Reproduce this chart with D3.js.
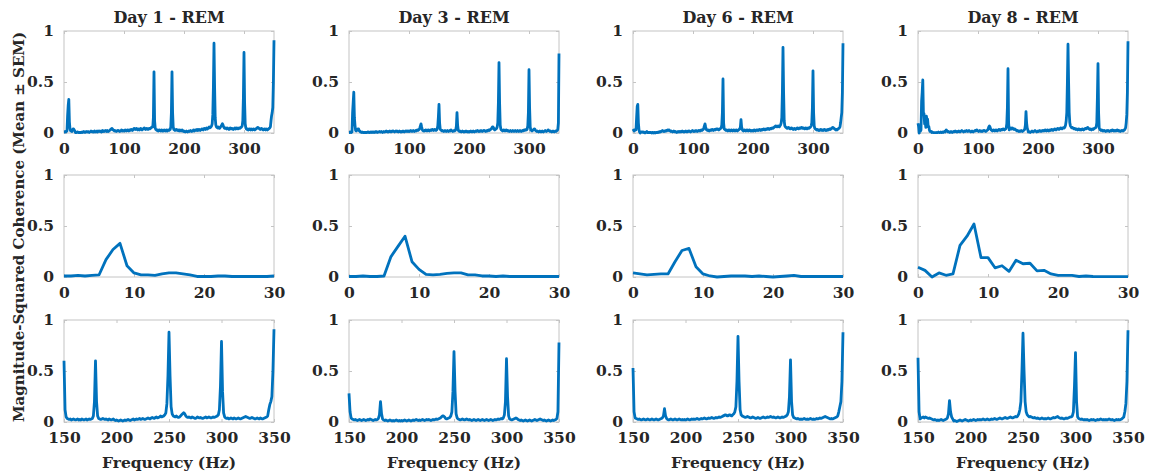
<!DOCTYPE html>
<html>
<head>
<meta charset="utf-8">
<script src="https://cdn.jsdelivr.net/npm/d3@7"></script>
<style>
body { margin: 0; background: #fff; }
text { font-family: "DejaVu Serif", serif; font-weight: bold; fill: #262626; }
</style>
</head>
<body>
<div id="chart"></div>
<script>
// coherence spectra, one value per Hz (0..350 Hz)
var titles = ["Day 1 - REM", "Day 3 - REM", "Day 6 - REM", "Day 8 - REM"];

var day1 = [
	0.01,0.01,0.015,0.01,0.015,0.02,0.17,0.27,0.33,0.11,
	0.04,0.02,0.02,0.015,0.03,0.04,0.04,0.03,0.02,0.005,
	0.005,0.005,0.01,0.01,0.005,0.005,0.005,0.005,0.005,0.005,
	0.01,0.005,0.01,0.015,0.01,0.005,0.01,0.015,0.01,0.01,
	0.015,0.01,0.005,0.01,0.015,0.02,0.015,0.01,0.015,0.01,
	0.01,0.02,0.015,0.01,0.015,0.02,0.01,0.015,0.02,0.015,
	0.02,0.015,0.01,0.02,0.025,0.015,0.02,0.015,0.02,0.025,
	0.02,0.015,0.025,0.02,0.015,0.02,0.025,0.03,0.035,0.04,
	0.045,0.035,0.03,0.025,0.02,0.025,0.02,0.015,0.02,0.025,
	0.02,0.025,0.02,0.015,0.02,0.025,0.03,0.02,0.025,0.02,
	0.025,0.02,0.03,0.025,0.02,0.025,0.03,0.025,0.02,0.03,
	0.025,0.03,0.035,0.03,0.025,0.03,0.04,0.045,0.04,0.035,
	0.04,0.045,0.035,0.03,0.04,0.035,0.03,0.04,0.045,0.035,
	0.03,0.035,0.04,0.045,0.05,0.04,0.035,0.04,0.045,0.04,
	0.035,0.04,0.045,0.04,0.045,0.05,0.055,0.06,0.06,0.15,
	0.6,0.12,0.05,0.035,0.03,0.025,0.03,0.02,0.025,0.03,
	0.025,0.02,0.025,0.03,0.02,0.025,0.02,0.03,0.025,0.02,
	0.025,0.03,0.02,0.025,0.03,0.025,0.03,0.035,0.06,0.2,
	0.6,0.2,0.06,0.035,0.03,0.025,0.03,0.035,0.03,0.025,
	0.03,0.025,0.02,0.03,0.025,0.02,0.025,0.03,0.02,0.015,
	0.02,0.015,0.01,0.015,0.02,0.015,0.01,0.015,0.02,0.015,
	0.02,0.025,0.02,0.015,0.02,0.025,0.03,0.02,0.025,0.03,
	0.025,0.03,0.035,0.025,0.03,0.035,0.03,0.025,0.03,0.035,
	0.04,0.035,0.03,0.04,0.045,0.04,0.035,0.045,0.05,0.04,
	0.045,0.05,0.06,0.05,0.055,0.06,0.07,0.09,0.18,0.45,
	0.88,0.45,0.15,0.08,0.06,0.055,0.05,0.06,0.05,0.045,
	0.05,0.06,0.07,0.08,0.09,0.08,0.06,0.05,0.045,0.05,
	0.045,0.04,0.05,0.045,0.04,0.035,0.04,0.05,0.045,0.04,
	0.045,0.04,0.035,0.04,0.045,0.05,0.04,0.045,0.05,0.045,
	0.04,0.045,0.05,0.045,0.05,0.055,0.06,0.07,0.12,0.35,
	0.79,0.3,0.09,0.05,0.04,0.035,0.04,0.03,0.035,0.04,
	0.035,0.03,0.04,0.035,0.03,0.035,0.04,0.035,0.03,0.035,
	0.04,0.045,0.05,0.055,0.05,0.045,0.04,0.035,0.04,0.045,
	0.04,0.035,0.03,0.035,0.04,0.035,0.03,0.04,0.035,0.03,
	0.035,0.04,0.045,0.05,0.06,0.12,0.17,0.2,0.25,0.5,
	0.91
];

var day3 = [
	0.005,0.005,0.01,0.005,0.005,0.01,0.2,0.3,0.4,0.15,
	0.075,0.025,0.02,0.025,0.035,0.04,0.04,0.02,0.02,0.01,
	0.01,0.005,0.01,0.005,0.005,0.005,0.005,0.005,0.005,0.005,
	0.005,0.01,0.005,0.01,0.005,0.005,0.01,0.005,0.01,0.01,
	0.005,0.01,0.01,0.005,0.01,0.015,0.01,0.005,0.01,0.01,
	0.01,0.015,0.01,0.01,0.015,0.01,0.005,0.01,0.015,0.01,
	0.01,0.015,0.02,0.015,0.01,0.015,0.01,0.015,0.02,0.015,
	0.01,0.015,0.02,0.015,0.02,0.015,0.01,0.015,0.02,0.015,
	0.02,0.015,0.01,0.015,0.02,0.015,0.01,0.015,0.01,0.015,
	0.02,0.015,0.01,0.015,0.02,0.015,0.02,0.015,0.02,0.015,
	0.02,0.015,0.02,0.025,0.02,0.015,0.02,0.025,0.02,0.015,
	0.02,0.025,0.02,0.025,0.03,0.025,0.03,0.035,0.05,0.07,
	0.09,0.06,0.035,0.025,0.02,0.025,0.02,0.025,0.03,0.025,
	0.02,0.025,0.03,0.025,0.02,0.025,0.03,0.025,0.03,0.035,
	0.03,0.025,0.03,0.035,0.03,0.025,0.03,0.04,0.07,0.16,
	0.28,0.1,0.04,0.03,0.025,0.02,0.025,0.02,0.015,0.02,
	0.025,0.02,0.015,0.02,0.025,0.02,0.015,0.02,0.025,0.02,
	0.03,0.025,0.02,0.015,0.02,0.025,0.02,0.025,0.035,0.07,
	0.2,0.08,0.03,0.02,0.015,0.02,0.015,0.01,0.015,0.02,
	0.015,0.01,0.015,0.01,0.015,0.02,0.015,0.01,0.015,0.01,
	0.015,0.01,0.015,0.02,0.015,0.01,0.015,0.02,0.015,0.01,
	0.015,0.02,0.015,0.02,0.025,0.02,0.015,0.02,0.015,0.02,
	0.025,0.02,0.015,0.02,0.025,0.02,0.025,0.02,0.015,0.02,
	0.025,0.02,0.025,0.03,0.025,0.03,0.035,0.04,0.05,0.06,
	0.06,0.05,0.035,0.03,0.035,0.04,0.045,0.06,0.1,0.3,
	0.69,0.3,0.08,0.04,0.03,0.025,0.02,0.025,0.03,0.025,
	0.02,0.025,0.03,0.025,0.02,0.025,0.02,0.015,0.02,0.025,
	0.02,0.015,0.02,0.025,0.02,0.015,0.02,0.025,0.02,0.015,
	0.02,0.025,0.02,0.015,0.02,0.025,0.02,0.015,0.02,0.025,
	0.02,0.025,0.03,0.025,0.03,0.035,0.03,0.04,0.07,0.2,
	0.62,0.25,0.06,0.03,0.025,0.02,0.025,0.03,0.035,0.04,
	0.035,0.025,0.02,0.015,0.02,0.015,0.01,0.015,0.02,0.015,
	0.01,0.015,0.02,0.015,0.01,0.015,0.02,0.025,0.02,0.015,
	0.02,0.025,0.03,0.025,0.02,0.015,0.02,0.015,0.01,0.015,
	0.02,0.015,0.01,0.015,0.02,0.015,0.02,0.025,0.035,0.1,
	0.78
];

var day6 = [
	0.04,0.03,0.02,0.025,0.03,0.03,0.15,0.26,0.28,0.1,
	0.03,0.01,0.0,0.005,0.01,0.01,0.01,0.005,0.01,0.005,
	0.0,0.005,0.01,0.015,0.005,0.005,0.005,0.005,0.005,0.005,
	0.005,0.0,0.005,0.005,0.0,0.005,0.005,0.0,0.005,0.005,
	0.005,0.005,0.01,0.005,0.01,0.015,0.01,0.015,0.02,0.025,
	0.02,0.015,0.02,0.015,0.02,0.025,0.02,0.025,0.03,0.025,
	0.03,0.025,0.02,0.015,0.02,0.015,0.01,0.015,0.02,0.015,
	0.01,0.015,0.01,0.005,0.01,0.015,0.01,0.015,0.01,0.015,
	0.01,0.015,0.02,0.015,0.01,0.015,0.01,0.015,0.02,0.015,
	0.01,0.015,0.02,0.015,0.02,0.015,0.01,0.015,0.02,0.025,
	0.02,0.015,0.02,0.015,0.02,0.025,0.02,0.015,0.02,0.025,
	0.02,0.025,0.02,0.025,0.03,0.025,0.03,0.035,0.05,0.07,
	0.09,0.06,0.035,0.03,0.025,0.03,0.025,0.02,0.025,0.03,
	0.025,0.03,0.035,0.03,0.025,0.03,0.035,0.03,0.035,0.04,
	0.035,0.04,0.035,0.03,0.035,0.04,0.045,0.05,0.08,0.2,
	0.53,0.1,0.04,0.035,0.03,0.025,0.03,0.025,0.02,0.025,
	0.03,0.025,0.02,0.025,0.03,0.025,0.02,0.025,0.03,0.025,
	0.02,0.025,0.03,0.025,0.02,0.025,0.03,0.035,0.04,0.06,
	0.13,0.06,0.035,0.025,0.02,0.025,0.03,0.025,0.02,0.025,
	0.03,0.025,0.02,0.025,0.03,0.025,0.02,0.025,0.02,0.025,
	0.02,0.025,0.03,0.025,0.02,0.025,0.03,0.025,0.03,0.025,
	0.03,0.035,0.03,0.025,0.03,0.035,0.03,0.035,0.04,0.035,
	0.03,0.035,0.04,0.035,0.04,0.045,0.04,0.035,0.04,0.045,
	0.04,0.045,0.05,0.045,0.05,0.055,0.06,0.065,0.07,0.065,
	0.06,0.065,0.07,0.065,0.06,0.07,0.08,0.1,0.15,0.4,
	0.84,0.4,0.12,0.07,0.06,0.055,0.05,0.045,0.05,0.055,
	0.05,0.045,0.04,0.045,0.05,0.045,0.04,0.035,0.04,0.045,
	0.04,0.035,0.04,0.045,0.05,0.045,0.04,0.045,0.05,0.045,
	0.05,0.055,0.05,0.045,0.05,0.045,0.04,0.045,0.05,0.045,
	0.04,0.045,0.05,0.045,0.05,0.055,0.06,0.07,0.1,0.25,
	0.61,0.2,0.07,0.045,0.04,0.035,0.03,0.035,0.03,0.025,
	0.03,0.025,0.03,0.035,0.03,0.025,0.03,0.025,0.03,0.035,
	0.03,0.025,0.03,0.025,0.03,0.035,0.03,0.035,0.04,0.035,
	0.04,0.045,0.05,0.055,0.05,0.045,0.04,0.035,0.03,0.035,
	0.03,0.035,0.04,0.045,0.05,0.06,0.1,0.15,0.2,0.4,
	0.88
];

var day8 = [
	0.095,0.065,0.0,0.04,0.017,0.03,0.31,0.4,0.52,0.19,
	0.19,0.09,0.11,0.055,0.165,0.13,0.135,0.06,0.065,0.03,
	0.015,0.015,0.015,0.005,0.01,0.005,0.003,0.003,0.003,0.003,
	0.003,0.005,0.003,0.005,0.01,0.005,0.003,0.005,0.01,0.005,
	0.005,0.01,0.005,0.01,0.015,0.01,0.02,0.03,0.025,0.015,
	0.01,0.015,0.01,0.005,0.01,0.015,0.01,0.005,0.01,0.015,
	0.01,0.015,0.02,0.015,0.01,0.015,0.01,0.015,0.02,0.015,
	0.01,0.015,0.02,0.025,0.02,0.015,0.01,0.015,0.02,0.015,
	0.02,0.025,0.02,0.015,0.02,0.025,0.02,0.015,0.01,0.015,
	0.02,0.015,0.01,0.015,0.02,0.025,0.02,0.025,0.03,0.025,
	0.02,0.015,0.02,0.025,0.02,0.015,0.02,0.015,0.02,0.025,
	0.02,0.025,0.02,0.015,0.02,0.025,0.03,0.04,0.06,0.07,
	0.06,0.04,0.03,0.025,0.02,0.025,0.03,0.025,0.02,0.025,
	0.03,0.025,0.02,0.025,0.03,0.035,0.03,0.025,0.03,0.035,
	0.03,0.035,0.04,0.035,0.03,0.035,0.04,0.05,0.09,0.25,
	0.63,0.1,0.03,0.04,0.045,0.05,0.04,0.05,0.045,0.04,
	0.035,0.04,0.035,0.03,0.025,0.02,0.025,0.02,0.015,0.02,
	0.015,0.02,0.025,0.02,0.015,0.02,0.025,0.03,0.04,0.08,
	0.21,0.1,0.05,0.03,0.01,0.015,0.01,0.005,0.01,0.015,
	0.02,0.015,0.01,0.015,0.02,0.025,0.02,0.015,0.01,0.015,
	0.02,0.015,0.02,0.025,0.02,0.015,0.02,0.025,0.02,0.025,
	0.02,0.025,0.03,0.025,0.02,0.025,0.03,0.025,0.02,0.025,
	0.03,0.025,0.03,0.035,0.03,0.025,0.03,0.035,0.04,0.035,
	0.03,0.035,0.04,0.045,0.04,0.035,0.04,0.045,0.05,0.045,
	0.04,0.045,0.05,0.055,0.05,0.06,0.08,0.12,0.2,0.5,
	0.87,0.5,0.2,0.1,0.07,0.06,0.05,0.055,0.05,0.045,
	0.04,0.045,0.04,0.035,0.04,0.035,0.03,0.035,0.04,0.035,
	0.03,0.035,0.03,0.035,0.04,0.035,0.03,0.035,0.04,0.045,
	0.04,0.045,0.05,0.055,0.045,0.04,0.035,0.04,0.035,0.03,
	0.035,0.04,0.035,0.04,0.045,0.05,0.05,0.06,0.1,0.35,
	0.68,0.2,0.05,0.035,0.03,0.025,0.03,0.025,0.02,0.025,
	0.02,0.025,0.02,0.015,0.02,0.025,0.02,0.025,0.02,0.015,
	0.02,0.025,0.02,0.025,0.03,0.025,0.02,0.025,0.02,0.025,
	0.02,0.025,0.03,0.025,0.02,0.025,0.02,0.015,0.02,0.025,
	0.02,0.025,0.02,0.025,0.03,0.04,0.05,0.1,0.18,0.4,
	0.9
];

var series = [day1, day3, day6, day8];

// row frequency windows and tick labels
var rowRanges = [[0, 350], [0, 30], [150, 350]];
var rowTicks = [[0, 100, 200, 300], [0, 10, 20, 30], [150, 200, 250, 300, 350]];
var yTicks = [0, 0.5, 1];

var colLeft = [64, 349, 633, 918];
var rowTop = [31, 175, 320];
var pw = 210, ph = 102;

var svg = d3.select("#chart").append("svg")
	.attr("width", 1156).attr("height", 474);

var y = d3.scaleLinear().domain([0, 1]).range([ph, 0]);

series.forEach(function(vals, c) {
	rowRanges.forEach(function(rng, r) {
		var g = svg.append("g")
			.attr("transform", "translate(" + colLeft[c] + "," + rowTop[r] + ")");

		var x = d3.scaleLinear().domain(rng).range([0, pw]);

		// box
		g.append("rect")
			.attr("width", pw).attr("height", ph)
			.attr("fill", "none").attr("stroke", "#c4c4c4").attr("stroke-width", 1);

		// inward ticks, all four sides
		var ax = [
			[d3.axisBottom(x).tickValues(rowTicks[r]), "translate(0," + ph + ")"],
			[d3.axisTop(x).tickValues(rowTicks[r]).tickFormat(""), null],
			[d3.axisLeft(y).tickValues(yTicks).tickFormat(d3.format("")), null],
			[d3.axisRight(y).tickValues(yTicks).tickFormat(""), "translate(" + pw + ",0)"]
		];
		ax.forEach(function(a) {
			var ag = g.append("g")
				.attr("transform", a[1])
				.call(a[0].tickSizeInner(-3).tickSizeOuter(0).tickPadding(10));
			ag.select(".domain").remove();
			ag.selectAll(".tick line").attr("stroke", "#c4c4c4");
			ag.selectAll("text")
				.attr("font-size", 15.5)
				.attr("font-family", null)
				.attr("fill", "#262626");
		});

		var pts = [];
		for (var f = rng[0]; f <= rng[1]; f++) pts.push([f, vals[f]]);

		g.append("path")
			.datum(pts)
			.attr("fill", "none")
			.attr("stroke", "#0072BD")
			.attr("stroke-width", 2.8)
			.attr("stroke-linejoin", "round")
			.attr("d", d3.line()
				.x(function(d) { return x(d[0]); })
				.y(function(d) { return y(d[1]); }));

		if (r == 0) {
			g.append("text")
				.attr("x", pw / 2).attr("y", -8)
				.attr("text-anchor", "middle")
				.attr("font-size", 16)
				.attr("fill", "#111")
				.text(titles[c]);
		}
		if (r == 2) {
			g.append("text")
				.attr("x", pw / 2).attr("y", ph + 46)
				.attr("text-anchor", "middle")
				.attr("font-size", 15.5)
				.text("Frequency (Hz)");
		}
	});
});

svg.append("text")
	.attr("transform", "translate(24,227) rotate(-90)")
	.attr("text-anchor", "middle")
	.attr("font-size", 15)
	.text("Magnitude-Squared Coherence (Mean ± SEM)");
</script>
</body>
</html>
